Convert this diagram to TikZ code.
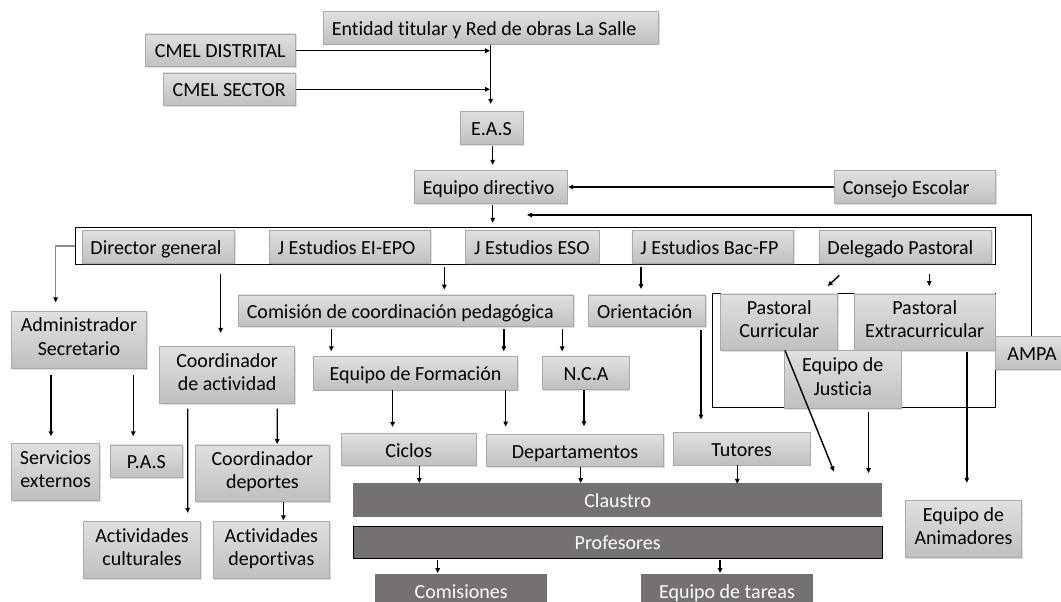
\documentclass[tikz,border=0pt]{standalone}
\usepackage{fontspec}
\setmainfont{Carlito}[Ligatures=NoCommon]
\usetikzlibrary{arrows.meta,calc,shadows}
\definecolor{bord}{RGB}{170,170,170}
\definecolor{topg}{RGB}{224,224,224}
\definecolor{botg}{RGB}{192,192,192}
\definecolor{darkb}{RGB}{118,113,113}
\definecolor{linegray}{RGB}{140,140,140}
\newcommand\mystrut{\rule[-6pt]{0pt}{27pt}}
\newcommand\lbl[2]{\makebox[#1pt][l]{#2}}
\begin{document}
\begin{tikzpicture}[x=1pt,y=-1pt,
  sz/.style 2 args={minimum width=#1pt, minimum height=#2pt},
  txt/.style={font=\fontsize{20}{23.5}\selectfont, align=center, inner sep=0pt,
    execute at begin node=\mystrut, execute at end node=\mystrut},
  box/.style={txt, draw=bord, line width=0.8pt, top color=topg, bottom color=botg, text=black,
    drop shadow={shadow xshift=1.2pt, shadow yshift=-1.2pt, opacity=0.25}},
  dbox/.style={txt, fill=darkb, text=white},
  frame/.style={draw=black, line width=1pt, fill=white, inner sep=0pt},
  arr/.style={-{Triangle[length=5pt,width=4.5pt]}, line width=1.4pt, black},
  grayarr/.style={-{Triangle[length=5pt,width=4.5pt,color=black]}, line width=1.4pt, linegray},
]
\useasboundingbox[fill=white] (0,0) rectangle (1061,602);

% top
\node[box,sz={335.4}{32.6}] (entidad) at (491,28) {\lbl{318.4}{Entidad titular y Red de obras La Salle}};
\node[box,sz={150}{32.7}] (cmeld) at (220.3,50.3) {CMEL DISTRITAL};
\node[box,sz={132.3}{32.7}] (cmels) at (229.2,89.3) {CMEL SECTOR};
\node[box,sz={63}{33.4}] (eas) at (491.5,128) {E.A.S};
\node[box,sz={152.7}{32.6}] (ed) at (490.7,187) {\lbl{135.7}{Equipo directivo}};
\node[box,sz={161.4}{32.6}] (ce) at (915,187) {\lbl{144.4}{Consejo Escolar}};

% director row
\node[frame,sz={919.7}{37}] (dirrow) at (535.8,245.8) {};
\node[box,sz={152.7}{33.3}] (dg) at (158.3,246.7) {\lbl{135.7}{Director general}};
\node[box,sz={161}{33.3}] (jei) at (349.8,246.7) {\lbl{144}{J Estudios EI-EPO}};
\node[box,sz={133.3}{33.3}] (jeso) at (532.3,246.7) {\lbl{116.3}{J Estudios ESO}};
\node[box,sz={161.7}{33.3}] (jbac) at (712.8,246.7) {\lbl{144.7}{J Estudios Bac-FP}};
\node[box,sz={172.7}{33.3}] (dp) at (905.3,246.7) {\lbl{155.7}{Delegado Pastoral}};

% pastoral group
\node[frame,sz={283.4}{114.4}] (pgroup) at (854,350.5) {};
\node[box,sz={117}{56.7}] (pcur) at (779.2,322.3) {Pastoral\\Curricular};
\node[box,sz={140.7}{56.7}] (pext) at (924.7,322.3) {Pastoral\\Extracurricular};
\node[box,sz={116.7}{57.6}] (ejus) at (842.7,379.5) {Equipo de\\Justicia};
\node[box,sz={74}{32.6}] (ampa) at (1032,353) {AMPA};

% middle
\node[box,sz={135}{57.3}] (adm) at (78.9,339.7) {Administrador\\Secretario};
\node[box,sz={135.4}{56.6}] (cact) at (227.1,375) {Coordinador\\de actividad};
\node[box,sz={335.4}{31.7}] (ccp) at (406,310.8) {\lbl{318.4}{Comisión de coordinación pedagógica}};
\node[box,sz={116.7}{31.7}] (ori) at (647,310.8) {\lbl{99.7}{Orientación}};
\node[box,sz={204.2}{33.3}] (ef) at (415.5,373.3) {Equipo de Formación};
\node[box,sz={86.3}{32.6}] (nca) at (586,373) {N.C.A};
\node[box,sz={134.3}{32.4}] (ciclos) at (408.8,449.5) {Ciclos};
\node[box,sz={176.6}{32.4}] (dep) at (575,450.5) {Departamentos};
\node[box,sz={136.7}{32.3}] (tut) at (741.6,448.8) {Tutores};

% bottom
\node[dbox,sz={528.9}{34}] (claustro) at (617.7,500.3) {Claustro};
\node[dbox,draw=black,line width=1pt,sz={528.9}{32.3}] (prof) at (617.7,542.2) {Profesores};
\node[dbox,sz={172.3}{33}] (com) at (461.2,590.8) {Comisiones};
\node[dbox,sz={172.6}{33}] (etar) at (727,590.8) {Equipo de tareas};
\node[box,sz={116.5}{56.6}] (anim) at (963.5,529) {Equipo de\\Animadores};
\node[box,sz={88.5}{57.4}] (serv) at (55.6,472) {Servicios\\externos};
\node[box,sz={72.3}{32.7}] (pas) at (146.4,461.3) {P.A.S};
\node[box,sz={134.3}{56.7}] (cdep) at (262.4,473.3) {Coordinador\\deportes};
\node[box,sz={117.5}{57.4}] (acul) at (142,550) {Actividades\\culturales};
\node[box,sz={116.3}{57.4}] (adep) at (271.4,550) {Actividades\\deportivas};

% connectors
\draw[arr] ($(entidad.south)+(-0.3,0)$) -- ($(eas.north)+(-0.8,-7)$);
\draw[arr] ($(cmeld.east)+(0,0.4)$) -- ($(cmeld.east -| eas.north)+(-1.5,0.4)$);
\draw[arr] (cmels.east) -- ($(cmels.east -| eas.north)+(-1.5,0)$);
\draw[arr] ($(eas.south)+(1.2,1)$) -- ($(ed.north)+(2,-5.5)$);
\draw[arr] (ce.west) -- ($(ed.east)+(0.7,0)$);
\draw[arr] ($(ed.south)+(2,1)$) -- ($(dirrow.north -| ed.south)+(2,-4)$);
\coordinate (ampaend) at (527,215);
\draw[arr] ([xshift=-0.3pt]ampa.north) |- (ampaend);
\draw[grayarr] (dirrow.west) -| ($(adm.north)+(-23.2,-8.3)$);
\draw[arr] ($(dirrow.south -| cact.north)+(-6.4,9)$) -- ($(cact.north)+(-6.4,-13.4)$);
\draw[arr] ($(dirrow.south -| ccp.north)+(38.3,2.5)$) -- ($(ccp.north)+(38.3,-5)$);
\draw[arr] ($(dirrow.south -| ori.north)+(-6,2.5)$) -- ($(ori.north)+(-6,-5.5)$);
\draw[arr] ($(dp.south)+(-66,11.7)$) -- ($(pcur.north)+(48.5,-7.5)$);
\draw[arr] ($(dp.south)+(24,10)$) -- ($(pext.north)+(4.6,-7.5)$);
\draw[arr] ($(ccp.south)+(-74.7,1.6)$) -- ($(ef.north)+(-84.2,-5)$);
\draw[arr] ($(ccp.south)+(97.8,1.6)$) -- ($(ef.north)+(88.3,-5)$);
\draw[arr] ($(ccp.south)+(156.2,1.6)$) -- ($(nca.north)+(-23.8,-5)$);
\draw[arr] ($(ef.south)+(-22.9,0)$) -- ($(ciclos.north)+(-16.2,-6)$);
\draw[arr] ($(ef.south)+(90.2,0)$) -- ($(dep.north)+(-69.3,-7.3)$);
\draw[arr] ($(nca.south)+(-2,0.7)$) -- ($(dep.north)+(9,-7.6)$);
\draw[arr] ($(ori.south)+(54,3.3)$) -- ($(tut.north)+(-40.6,-12.7)$);
\draw[arr] ($(ciclos.south)+(10.5,0)$) -- ($(claustro.north)+(-198.4,0)$);
\draw[arr] ($(dep.south)+(5.7,0)$) -- ($(claustro.north)+(-37,0)$);
\draw[arr] ($(tut.south)+(-4.3,0)$) -- ($(claustro.north)+(119.6,0.7)$);
\draw[arr] ($(pcur.south)+(5.8,-0.7)$) -- ($(claustro.north)+(216.3,-11.6)$);
\draw[arr] ($(ejus.south)+(25.9,3.4)$) -- ($(claustro.north)+(250.9,-10)$);
\draw[arr] ($(pext.south)+(42.1,1)$) -- ($(anim.north)+(3.3,-17.4)$);
\draw[arr] ($(prof.south)+(-180,1)$) -- ($(com.north)+(-23.5,-1)$);
\draw[arr] ($(prof.south)+(102.3,1)$) -- ($(etar.north)+(-7,-1)$);
\draw[arr] ($(adm.south)+(-27.9,6.7)$) -- ($(serv.north)+(-4.6,-6.6)$);
\draw[arr] ($(adm.south)+(54.4,6.7)$) -- ($(pas.north)+(-13.1,-8.3)$);
\draw[arr] ($(cact.south)+(-39.4,5)$) -- ($(acul.north)+(45.7,-8)$);
\draw[arr] ($(cact.south)+(50.1,5)$) -- ($(cdep.north)+(14.8,-0.5)$);
\draw[arr] ($(cdep.south)+(21,0)$) -- ($(adep.north)+(12,-0.6)$);
\end{tikzpicture}
\end{document}
